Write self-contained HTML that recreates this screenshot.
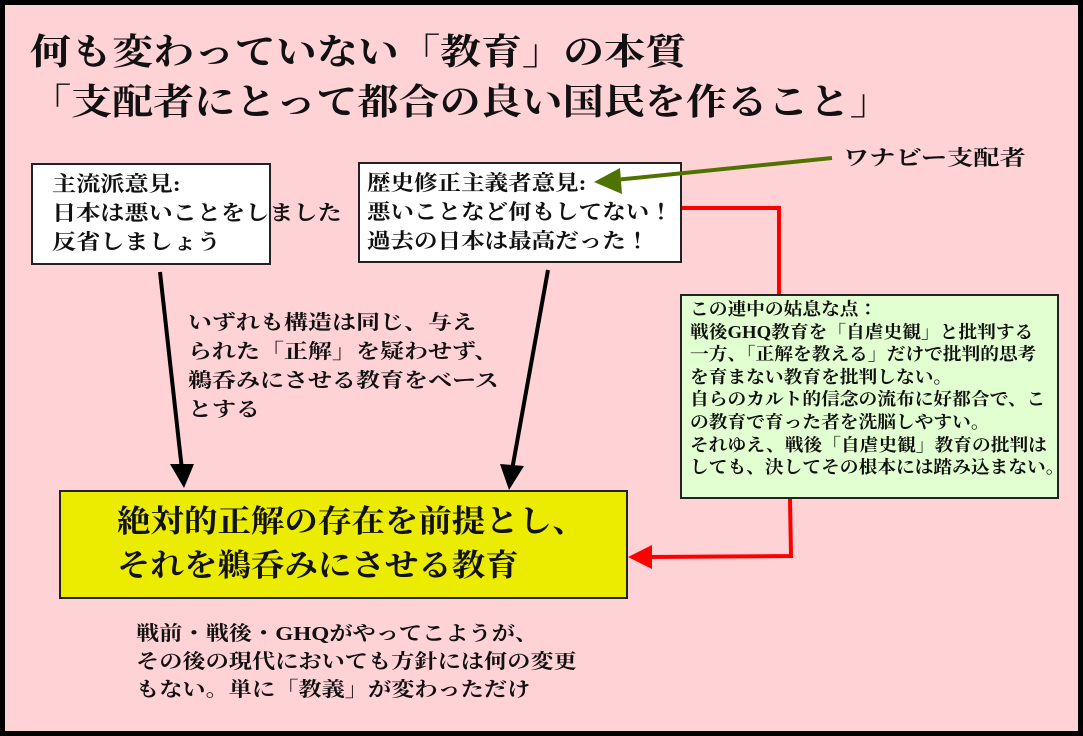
<!DOCTYPE html>
<html><head><meta charset="utf-8"><style>
*{margin:0;padding:0;box-sizing:border-box}
body{width:1083px;height:736px;background:#000;position:relative;overflow:hidden;font-family:"Liberation Serif","Noto Serif CJK JP","Noto Serif CJK SC",serif;font-weight:bold;color:#111}
#bg{position:absolute;left:5px;top:5px;width:1073px;height:726px;background:#ffd3d6}
.t{position:absolute;white-space:pre;transform-origin:0 0}
.box{position:absolute;border:2px solid #222}
</style></head><body>
<div id="bg"></div>
<div class="t" style="left:30px;top:27px;font-size:36px;line-height:50px;transform:scaleX(1.14)">何も変わっていない「教育」の本質
「支配者にとって都合の良い国民を作ること」</div>

<div class="box" style="left:31px;top:163px;width:240px;height:102px;background:#fff"></div>
<div class="t" style="left:52px;top:170px;font-size:21px;line-height:29px;transform:scaleX(1.15)">主流派意見:
日本は悪いことをしました
反省しましょう</div>

<div class="box" style="left:358px;top:162px;width:324px;height:101px;background:#fff"></div>
<div class="t" style="left:367px;top:169px;font-size:21px;line-height:29px;transform:scaleX(1.12)">歴史修正主義者意見:
悪いことなど何もしてない！
過去の日本は最高だった！</div>

<div class="t" style="left:843px;top:144px;font-size:21px;line-height:29px;transform:scaleX(1.25)">ワナビー支配者</div>

<div class="box" style="left:680px;top:294px;width:379px;height:205px;background:#e2ffd2"></div>
<div class="t" style="left:690px;top:298px;font-size:17.5px;line-height:22.6px;transform:scaleX(1.07)">この連中の姑息な点：
戦後GHQ教育を「自虐史観」と批判する
一方、「正解を教える」だけで批判的思考
を育まない教育を批判しない。
自らのカルト的信念の流布に好都合で、こ
の教育で育った者を洗脳しやすい。
それゆえ、戦後「自虐史観」教育の批判は
しても、決してその根本には踏み込まない。</div>

<div class="t" style="left:188px;top:309px;font-size:20px;line-height:29px;transform:scaleX(1.2)">いずれも構造は同じ、与え
られた「正解」を疑わせず、
鵜呑みにさせる教育をベース
とする</div>

<div class="box" style="left:59px;top:490px;width:569px;height:109px;background:#ecec00"></div>
<div class="t" style="left:117px;top:500px;font-size:31px;line-height:44px;transform:scaleX(1.08)">絶対的正解の存在を前提とし、
それを鵜呑みにさせる教育</div>

<div class="t" style="left:136px;top:620px;font-size:20px;line-height:28px;transform:scaleX(1.16)">戦前・戦後・GHQがやってこようが、
その後の現代においても方針には何の変更
もない。単に「教義」が変わっただけ</div>

<svg width="1083" height="736" style="position:absolute;left:0;top:0">
<g stroke="#000" stroke-width="4" fill="none">
<line x1="160" y1="272" x2="182" y2="470"/>
<line x1="548" y1="270" x2="512" y2="470"/>
</g>
<polygon points="170,464 194,464 184,488" fill="#000"/>
<polygon points="500,464 524,466 509,490" fill="#000"/>
<line x1="832" y1="158" x2="615" y2="180" stroke="#4f7300" stroke-width="4"/>
<polygon points="594,182 620,168 622,194" fill="#4f7300"/>
<polyline points="682,208 779,208 779,294" stroke="#f00" stroke-width="4" fill="none"/>
<polyline points="790,499 791,556 648,557" stroke="#f00" stroke-width="4" fill="none"/>
<polygon points="628,557 652,545 652,569" fill="#f00"/>
</svg>
</body></html>
